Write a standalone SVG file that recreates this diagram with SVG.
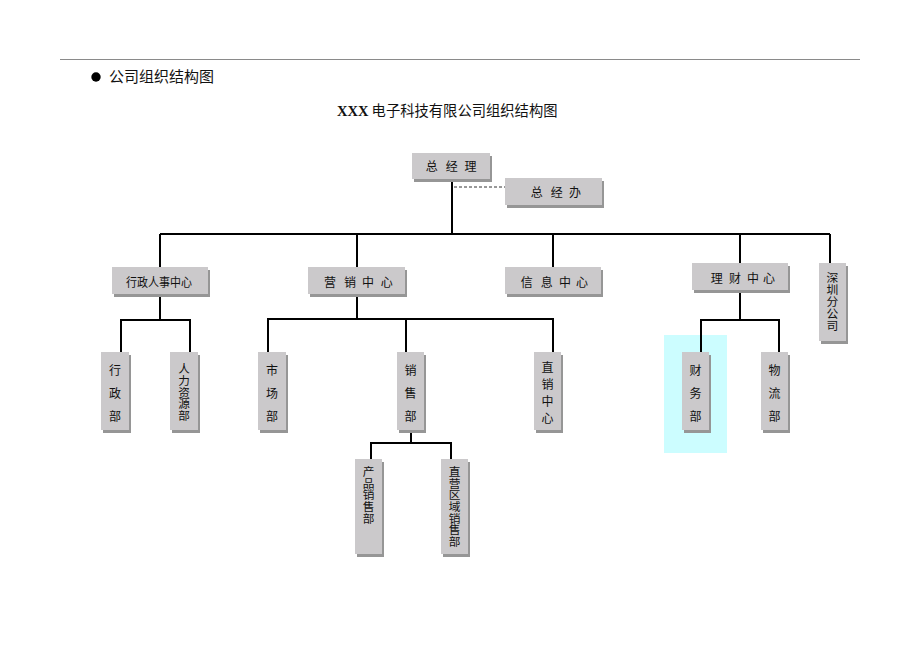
<svg xmlns="http://www.w3.org/2000/svg" width="920" height="651" viewBox="0 0 920 651">
<style>
.t{font-family:"Noto Sans CJK SC","Liberation Sans",sans-serif;fill:#111;}
.b{font-size:12px;text-anchor:middle;dominant-baseline:central;}
.v{writing-mode:vertical-rl;text-orientation:upright;}
.bx{fill:#cbc9cb;}
.sh{fill:#969696;}
.ln{fill:none;stroke:#000;stroke-width:2;}
</style>
<rect width="920" height="651" fill="#fff"/>
<line x1="60" y1="59.5" x2="860" y2="59.5" stroke="#8a8a8a" stroke-width="1"/>
<circle cx="96" cy="77" r="4.7" fill="#000"/>
<text class="t" x="109" y="82" font-size="15">公司组织结构图</text>
<text class="t" x="337" y="116" font-size="14.3"><tspan font-family="Liberation Serif,serif" font-weight="bold" font-size="14.5">XXX</tspan> 电子科技有限公司组织结构图</text>
<rect x="664" y="335" width="63" height="118" fill="#ccfdff"/>
<g id="connectors">
<path class="ln" d="M452 182V234M160 234H830M160 234V267M357 234V267M553 234V267M740 234V263M830 234V263"/>
<path d="M454 187H505" stroke="#333" stroke-width="1" stroke-dasharray="3,2" fill="none"/>
<path class="ln" d="M160 297V320M121 352V320H190V352"/>
<path class="ln" d="M357 297V319M268 352V319H553V352M406 319V352"/>
<path class="ln" d="M411 433V443M371 459V443H451V459"/>
<path class="ln" d="M740 293V320M701 352V320H779V352"/>
</g>
<g id="zjl"><rect class="sh" x="414" y="156" width="78" height="26"/><rect class="bx" x="412" y="153" width="78" height="26"/><text class="t b" x="431.7" y="165">总</text><text class="t b" x="451.7" y="165">经</text><text class="t b" x="470.5" y="165">理</text></g>
<g id="zjb"><rect class="sh" x="507" y="181" width="97" height="27"/><rect class="bx" x="505" y="178" width="97" height="27"/><text class="t b" x="536.7" y="191.5">总</text><text class="t b" x="556.7" y="191.5">经</text><text class="t b" x="575" y="191.5">办</text></g>
<g id="xzrs"><rect class="sh" x="114" y="270" width="96" height="27"/><rect class="bx" x="112" y="267" width="96" height="27"/><text class="t b" x="159" y="281.5" font-size="11.5" textLength="66" lengthAdjust="spacingAndGlyphs">行政人事中心</text></g>
<g id="yx"><rect class="sh" x="310" y="270" width="97" height="27"/><rect class="bx" x="308" y="267" width="97" height="27"/><text class="t b" x="330" y="281.5">营</text><text class="t b" x="350" y="281.5">销</text><text class="t b" x="368" y="281.5">中</text><text class="t b" x="386.7" y="281.5">心</text></g>
<g id="xx"><rect class="sh" x="507" y="270" width="96" height="27"/><rect class="bx" x="505" y="267" width="96" height="27"/><text class="t b" x="526.7" y="281.5">信</text><text class="t b" x="546.7" y="281.5">息</text><text class="t b" x="565" y="281.5">中</text><text class="t b" x="582" y="281.5">心</text></g>
<g id="lc"><rect class="sh" x="694" y="266" width="96" height="27"/><rect class="bx" x="692" y="263" width="96" height="27"/><text class="t b" x="716.7" y="277.5">理</text><text class="t b" x="735" y="277.5">财</text><text class="t b" x="753" y="277.5">中</text><text class="t b" x="769" y="277.5">心</text></g>
<g id="sz"><rect class="sh" x="821" y="266" width="27" height="78"/><rect class="bx" x="819" y="263" width="27" height="78"/><text class="t v" x="832.5" y="272.1" font-size="11.8">深圳分公司</text></g>
<g id="xzb"><rect class="sh" x="103" y="355" width="28" height="78"/><rect class="bx" x="101" y="352" width="28" height="78"/><text class="t b" y="369"><tspan x="115">行</tspan><tspan x="115" dy="23">政</tspan><tspan x="115" dy="23">部</tspan></text></g>
<g id="rl"><rect class="sh" x="172" y="355" width="28" height="78"/><rect class="bx" x="170" y="352" width="28" height="78"/><text class="t v" x="184" y="363.2" font-size="11.6">人力资源部</text></g>
<g id="sc"><rect class="sh" x="260" y="355" width="28" height="78"/><rect class="bx" x="258" y="352" width="28" height="78"/><text class="t b" y="368.5"><tspan x="272">市</tspan><tspan x="272" dy="23.3">场</tspan><tspan x="272" dy="23.2">部</tspan></text></g>
<g id="xs"><rect class="sh" x="399" y="355" width="27" height="78"/><rect class="bx" x="397" y="352" width="27" height="78"/><text class="t b" y="368.5"><tspan x="410.5">销</tspan><tspan x="410.5" dy="23.3">售</tspan><tspan x="410.5" dy="23.2">部</tspan></text></g>
<g id="zx"><rect class="sh" x="536" y="355" width="27" height="78"/><rect class="bx" x="534" y="352" width="27" height="78"/><text class="t b" y="366"><tspan x="547.5">直</tspan><tspan x="547.5" dy="17">销</tspan><tspan x="547.5" dy="17">中</tspan><tspan x="547.5" dy="17">心</tspan></text></g>
<g id="cp"><rect class="sh" x="357" y="462" width="27" height="95"/><rect class="bx" x="355" y="459" width="27" height="95"/><text class="t v" x="368.5" y="465.6" font-size="11.7">产品销售部</text></g>
<g id="zy"><rect class="sh" x="443" y="462" width="27" height="95"/><rect class="bx" x="441" y="459" width="27" height="95"/><text class="t v" x="454.5" y="465.6" font-size="11.7">直营区域销售部</text></g>
<g id="cw"><rect class="sh" x="684" y="355" width="27" height="78"/><rect class="bx" x="682" y="352" width="27" height="78"/><text class="t b" y="369"><tspan x="695.5">财</tspan><tspan x="695.5" dy="23">务</tspan><tspan x="695.5" dy="23">部</tspan></text></g>
<g id="wl"><rect class="sh" x="763" y="355" width="27" height="78"/><rect class="bx" x="761" y="352" width="27" height="78"/><text class="t b" y="369"><tspan x="774.5">物</tspan><tspan x="774.5" dy="23">流</tspan><tspan x="774.5" dy="23">部</tspan></text></g>
</svg>
